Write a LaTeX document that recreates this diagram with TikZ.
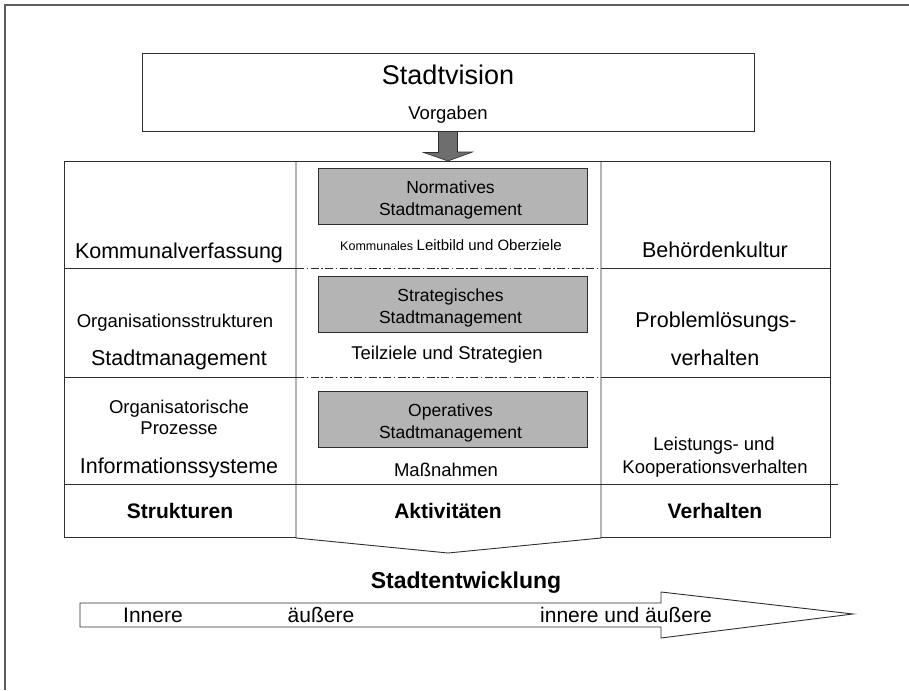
\documentclass[tikz,border=0pt]{standalone}
\usepackage{fontspec}
\setmainfont{Liberation Sans}
\usetikzlibrary{calc}
\definecolor{cLinie}{HTML}{2E2E2E}
\definecolor{cRahmen}{HTML}{5E5E5E}
\definecolor{cBox}{HTML}{B4B4B4}
\definecolor{cPfeil}{HTML}{6E6E6E}

\begin{document}
\begin{tikzpicture}[
    x=1pt, y=-1pt,
    linie/.style={draw=cLinie, line width=0.9pt},
    strich/.style={draw=cLinie, line width=0.7pt,
                   dash pattern=on 8pt off 2.5pt on 1.5pt off 2.5pt},
    mgmt/.style={draw=cLinie, line width=0.9pt, fill=cBox,
                 minimum width=269pt, minimum height=56pt, inner sep=0pt},
    blockpfeil/.style={draw=cLinie, line width=0.6pt, fill=cPfeil},
    gross/.style={font=\fontsize{21.5}{25}\selectfont, inner sep=0pt, anchor=base},
    mittel/.style={font=\fontsize{18.5}{22}\selectfont, inner sep=0pt, anchor=base},
    fett/.style={font=\fontsize{21}{25}\selectfont\bfseries, inner sep=0pt, anchor=base},
]
\useasboundingbox (0,0) rectangle (909,690);

% ===================== Rahmen =====================
\draw[cRahmen, line width=1.3pt] (5,690) -- (5,5) -- (909,5);

% ===================== Stadtvision =====================
\node[draw=cLinie, line width=0.9pt, minimum width=612pt, minimum height=78pt,
      inner sep=0pt] (vision) at (448,92) {};
\node[font=\fontsize{27}{32}\selectfont, inner sep=0pt, anchor=base]
      (visionT) at (448,85) {Stadtvision};
\node[mittel] (vorgaben) at (448,120) {Vorgaben};

% Vorgaben nach unten in die Tabelle
\coordinate (tabOben) at (448,161);
\draw[blockpfeil] ($(vision.south)+(-9.5,0)$) -- ++(0,21) -- ++(-15,0)
      -- (tabOben) -- ++(24.5,-9) -- ++(-15,0) -- ($(vision.south)+(9.5,0)$) -- cycle;

% ===================== Tabelle =====================
\draw[linie] (296,537) -- (64,537) -- (64,161) -- (830,161) -- (830,537) -- (601,537);
\draw[linie] (296,161) -- (296,538) -- (448,553) -- (601,538) -- (601,161);
\foreach \y in {268,377} {
    \draw[linie] (64,\y) -- (296,\y);
    \draw[linie] (601,\y) -- (830,\y);
    \draw[strich] (296,\y) -- (601,\y);
}
\draw[linie] (64,484) -- (838,484);

% ===================== Mitte: Stadtmanagement =====================
\foreach \n/\y/\t in {norm/196/Normatives, strat/304/Strategisches,
                      oper/419.5/Operatives} {
    \node[mgmt] (\n) at (452.5,\y) {};
    \node[font=\fontsize{17.5}{22}\selectfont, align=center, inner sep=0pt]
          (\n T) at ($(\n.center)+(-2,3.5)$) {\t\\Stadtmanagement};
}
\node[inner sep=0pt, anchor=base] (leitbild) at (451,250)
      {\fontsize{12.5}{15}\selectfont Kommunales
       \fontsize{15}{18}\selectfont Leitbild und Oberziele};
\node[mittel] (teilziele) at (447,359) {Teilziele und Strategien};
\node[mittel] (massnahmen) at (446,476) {Maßnahmen};
\node[fett] (aktiv) at (448,518) {Aktivitäten};

% ===================== Links: Strukturen =====================
\node[gross]  (verfassung) at (179,258) {Kommunalverfassung};
\node[mittel] (orgstruk)   at (175,327) {Organisationsstrukturen};
\node[gross]  (stadtmgmt)  at (179,365) {Stadtmanagement};
\node[mittel] (orgisch)    at (179,413) {Organisatorische};
\node[mittel] (prozesse)   at (179,434) {Prozesse};
\node[gross]  (infosys)    at (179,473) {Informationssysteme};
\node[fett]   (strukturen) at (180,518) {Strukturen};

% ===================== Rechts: Verhalten =====================
\node[gross]  (kultur)    at (715,257) {Behördenkultur};
\node[gross]  (problem)   at (716,327) {Problemlösungs-};
\node[gross]  (problem2)  at (715,365) {verhalten};
\node[mittel] (leistung)  at (714,450) {Leistungs- und};
\node[mittel] (koop)      at (715,473) {Kooperationsverhalten};
\node[fett]   (verhalten) at (715,518) {Verhalten};

% ===================== Stadtentwicklung =====================
\node[font=\fontsize{23}{27}\selectfont\bfseries, inner sep=0pt, anchor=base]
      (entw) at (466,588) {Stadtentwicklung};
\draw[linie, fill=white] (80,603) -- (661,603) -- (661,592) -- (853,614)
      -- (661,638) -- (661,627) -- (80,627) -- cycle;
\foreach \n/\x/\t in {innen/153/{Innere}, aussen/321/{äußere},
                      beide/626/{innere und äußere}} {
    \node[gross, font=\fontsize{21}{24}\selectfont] (\n) at (\x,622) {\t};
}

\end{tikzpicture}
\end{document}
